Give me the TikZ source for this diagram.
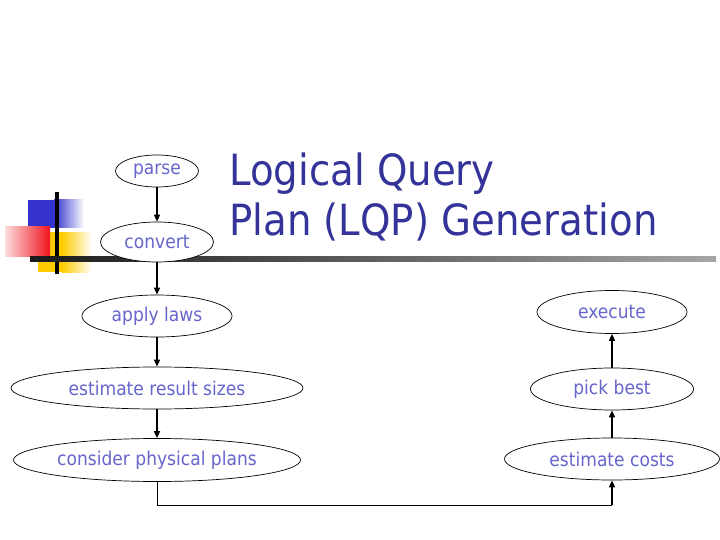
\documentclass[tikz,border=0pt]{standalone}
\usepackage{fontspec}
\setmainfont{DejaVu Sans}[FakeStretch=0.9]
\usetikzlibrary{arrows.meta,shapes.geometric}
\definecolor{titleblue}{RGB}{51,51,153}
\definecolor{nodeblue}{RGB}{102,102,204}
\definecolor{decoblue}{RGB}{51,51,204}
\definecolor{decoyellow}{RGB}{255,204,0}
\definecolor{decored}{RGB}{240,20,30}
\begin{document}
\begin{tikzpicture}[x=1pt,y=-1pt,
  stage/.style={draw=black, line width=0.7pt, fill=white, ellipse, inner sep=0pt,
    text=nodeblue, font=\fontsize{19}{22}\selectfont},
  flow/.style={line width=1.6pt, -{Triangle[length=7pt,width=6pt]}},
  titletext/.style={anchor=base west, inner sep=0pt, text=titleblue, font=\fontsize{43}{50}\selectfont}]
\useasboundingbox (0,0) rectangle (720,540);
% decoration
\fill[decoblue] (28,200) rectangle (54,228);
\shade[left color=decoblue, right color=white] (54,200) rectangle (84,228);
\fill[decoyellow] (38,232) rectangle (62,272);
\shade[left color=decoyellow, right color=white] (62,232) rectangle (92,272);
\shade[left color=decored!15, right color=decored] (5,227) rectangle (50,256);
\fill[black] (55,192) rectangle (59,274);
\shade[left color=black!90, right color=black!35] (30,256) rectangle (716,261);
% title
\node[titletext] (title1) at (229,186) {Logical Query};
\node[titletext] (title2) at (229,236) {Plan (LQP) Generation};
% nodes
\node[stage, minimum width=83pt, minimum height=32pt] (parse) at (157,171) {parse};
\node[stage, minimum width=113pt, minimum height=40pt] (convert) at (157,242) {convert};
\node[stage, minimum width=150pt, minimum height=42pt] (apply) at (157,316) {apply laws};
\node[stage, minimum width=292pt, minimum height=42pt] (sizes) at (157,388) {estimate result sizes};
\node[stage, minimum width=287pt, minimum height=43pt] (plans) at (157,460) {consider physical plans};
\node[stage, minimum width=150pt, minimum height=43pt] (execute) at (612,312) {execute};
\node[stage, minimum width=163pt, minimum height=42pt] (pick) at (612,389) {pick best};
\node[stage, minimum width=215pt, minimum height=42pt] (costs) at (612,459) {estimate costs};
% connectors
\coordinate (corner) at (612,505);
\draw[flow, line width=1.2pt] (parse) -- (convert);
\draw[flow] (convert) -- (apply);
\draw[flow] (apply) -- (sizes);
\draw[flow] (sizes) -- (plans);
\draw[line width=0.9pt] (plans.south) |- (corner);
\draw[flow] (corner) -- (costs.south);
\draw[flow] (costs) -- (pick);
\draw[flow] (pick) -- (execute);
\end{tikzpicture}
\end{document}
